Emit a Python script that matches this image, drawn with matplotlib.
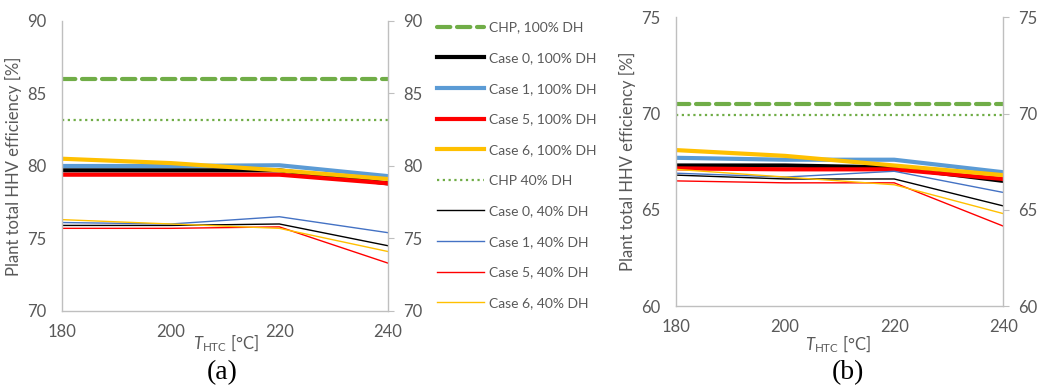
import matplotlib.pyplot as plt

plt.rcParams['font.family'] = ['Lato', 'DejaVu Sans']
plt.rcParams['mathtext.fontset'] = 'custom'
plt.rcParams['mathtext.it'] = 'Lato:italic'
plt.rcParams['mathtext.rm'] = 'Lato'

t_htc = [180, 200, 220, 240]

# (a) plant total HHV efficiency [%]
chp_100_a = 86.0
chp_40_a = 83.15
a_100 = {
    'Case 0': [79.7, 79.7, 79.7, 78.8],
    'Case 1': [80.0, 80.0, 80.05, 79.3],
    'Case 5': [79.4, 79.4, 79.4, 78.8],
    'Case 6': [80.5, 80.2, 79.7, 79.1],
}
a_40 = {
    'Case 0': [75.9, 75.9, 76.0, 74.5],
    'Case 1': [76.1, 76.0, 76.5, 75.4],
    'Case 5': [75.7, 75.7, 75.8, 73.3],
    'Case 6': [76.3, 76.0, 75.7, 74.1],
}

# (b)
chp_100_b = 70.5
chp_40_b = 69.9
b_100 = {
    'Case 0': [67.3, 67.3, 67.2, 66.5],
    'Case 1': [67.7, 67.6, 67.6, 66.95],
    'Case 5': [67.15, 67.1, 67.1, 66.6],
    'Case 6': [68.1, 67.8, 67.3, 66.8],
}
b_40 = {
    'Case 0': [66.8, 66.6, 66.6, 65.2],
    'Case 1': [66.9, 66.7, 67.0, 65.9],
    'Case 5': [66.5, 66.4, 66.4, 64.15],
    'Case 6': [67.1, 66.7, 66.3, 64.8],
}

colors_100 = {'Case 0': '#000000', 'Case 1': '#5B9BD5', 'Case 5': '#FF0000', 'Case 6': '#FFC000'}
colors_40 = {'Case 0': '#000000', 'Case 1': '#4472C4', 'Case 5': '#FF0000', 'Case 6': '#FFC000'}
green = '#70AD47'
grey_txt = '#595959'
grey_ax = '#BFBFBF'


def draw(ax, chp100, chp40, d100, d40, ylim, yticks):
    ax.plot([t_htc[0], t_htc[-1]], [chp100, chp100], color=green, lw=3.0,
            dashes=(3.2, 1.6), dash_capstyle='round', label='CHP, 100% DH')
    for k, v in d100.items():
        ax.plot(t_htc, v, color=colors_100[k], lw=3.0, label=f'{k}, 100% DH')
    ax.plot([t_htc[0], t_htc[-1]], [chp40, chp40], color=green, lw=1.6,
            dashes=(1, 1.6), label='CHP 40% DH')
    for k, v in d40.items():
        ax.plot(t_htc, v, color=colors_40[k], lw=1.0, label=f'{k}, 40% DH')
    ax.set_xlim(t_htc[0], t_htc[-1])
    ax.set_ylim(*ylim)
    ax.set_xticks(t_htc)
    ax.set_yticks(yticks)
    ax.spines['top'].set_visible(False)
    for s in ['left', 'right', 'bottom']:
        ax.spines[s].set_color(grey_ax)
        ax.spines[s].set_linewidth(1.0)
    ax.tick_params(axis='y', left=False, labelleft=True, right=True, labelright=True,
                   direction='out', length=4, color=grey_ax, pad=7,
                   labelsize=12, labelcolor=grey_txt)
    ax.tick_params(axis='x', bottom=False, pad=6, labelsize=12, labelcolor=grey_txt)
    ax.set_ylabel('Plant total HHV efficiency [%]', fontsize=12, color=grey_txt, labelpad=4)


fig = plt.figure(figsize=(10.37, 3.87), dpi=100)
ax1 = fig.add_axes([0.0598, 0.1964, 0.3144, 0.7494])
ax2 = fig.add_axes([0.6519, 0.2093, 0.3156, 0.746])

draw(ax1, chp_100_a, chp_40_a, a_100, a_40, (70, 90), [70, 75, 80, 85, 90])
draw(ax2, chp_100_b, chp_40_b, b_100, b_40, (60, 75), [60, 65, 70, 75])

xl = r'$T_{\mathrm{HTC}}$ [°C]'
fig.text(226 / 1037, 1 - 343 / 387, xl, ha='center', va='center', fontsize=12, color=grey_txt)
fig.text(838 / 1037, 1 - 344 / 387, xl, ha='center', va='center', fontsize=12, color=grey_txt)
fig.text(222 / 1037, 1 - 373 / 387, '(a)', ha='center', va='center', fontsize=20,
         family='Liberation Serif')
fig.text(848 / 1037, 1 - 373 / 387, '(b)', ha='center', va='center', fontsize=20,
         family='Liberation Serif')

handles, labels = ax1.get_legend_handles_labels()
leg = fig.legend(handles, labels, loc='upper left', bbox_to_anchor=(431 / 1037, 1 - 16 / 387),
                 frameon=False, fontsize=10, handlelength=3.4, handletextpad=0.36,
                 labelspacing=1.34, borderaxespad=0)
for txt in leg.get_texts():
    txt.set_color(grey_txt)

fig.savefig('out.png', dpi=100)
